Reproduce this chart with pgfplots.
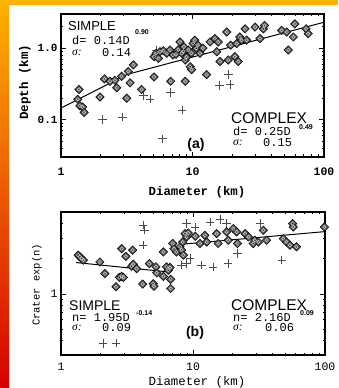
\documentclass[border=0pt]{standalone}
\usepackage{pgfplots}
\pgfplotsset{compat=1.18}
\usepackage{pgfplotstable}
\usepackage{fontspec}
\setmainfont{Liberation Serif}
\newfontfamily\mono{Liberation Mono}
\newfontfamily\hv{Liberation Sans}

\definecolor{topor}{RGB}{255,178,0}
\definecolor{midor}{RGB}{255,95,0}
\definecolor{botred}{RGB}{215,0,0}

% Panel (a): diameter (km), depth (km)
\pgfplotstableread{
D d
1.37 0.264
1.34 0.192
1.39 0.156
1.46 0.150
1.50 0.126
1.98 0.207
2.14 0.371
2.36 0.344
2.57 0.355
2.65 0.279
2.89 0.403
3.16 0.199
3.35 0.327
3.25 0.472
3.55 0.583
4.10 0.264
5.10 0.395
5.10 0.76
5.28 0.845
5.50 0.72
5.66 0.89
6.00 0.92
6.37 0.845
6.74 0.94
6.82 0.344
7.10 0.80
7.50 0.82
7.80 0.95
8.03 1.22
8.30 0.845
8.50 0.90
8.60 1.04
8.80 0.344
8.80 0.68
9.00 0.75
9.30 0.94
9.60 0.55
9.80 0.85
9.85 0.50
10.1 1.16
10.4 1.29
10.7 0.99
11.0 1.10
11.4 0.845
12.0 1.00
12.8 0.425
13.6 1.22
14.8 1.36
15.3 0.89
15.7 1.22
16.2 0.65
18.2 1.68
18.7 0.68
19.5 1.10
21.0 0.76
21.7 1.16
22.3 0.65
22.9 1.43
23.6 1.29
25.1 1.86
25.8 1.29
29.9 1.97
32.6 1.36
34.6 1.86
35.3 2.07
47.6 1.77
52.0 1.68
53.5 0.94
58.5 1.43
60.0 2.18
73.0 1.86
75.8 1.59
}\diaA
\pgfplotstableread{
D d
2.07 0.100
2.94 0.108
4.23 0.218
4.74 0.193
5.34 0.94
5.93 0.054
6.82 0.238
8.30 0.137
16.0 0.30
18.8 0.425
19.3 0.31
}\crossA

% Panel (b): diameter (km), crater exponent n
\pgfplotstableread{
D n
1.35 2.14
1.39 2.07
1.43 2.00
1.48 1.94
1.97 1.87
2.15 1.49
2.61 1.15
2.77 1.38
2.88 1.41
2.97 1.38
2.88 2.43
3.10 2.09
3.49 2.36
3.43 1.72
3.53 1.79
3.74 1.64
4.16 1.21
4.67 1.81
5.00 1.22
5.06 1.16
5.24 1.70
5.31 1.51
5.96 1.41
5.96 2.28
6.30 1.70
6.50 1.59
6.70 1.68
6.77 1.33
6.77 1.11
7.03 2.69
7.18 2.43
7.50 2.28
7.98 2.52
8.20 2.36
8.35 2.77
8.46 2.14
8.70 3.27
8.95 3.06
9.20 3.31
10.4 3.10
11.3 2.69
12.3 3.16
12.7 2.77
15.1 3.27
15.5 2.69
18.0 3.38
18.5 2.87
20.2 3.61
21.4 3.38
21.7 2.69
24.8 3.27
26.3 3.06
28.6 2.69
29.4 2.87
31.3 2.77
34.1 3.49
36.1 2.87
48.3 2.96
51.1 2.77
54.3 2.60
56.8 3.98
57.5 3.72
60.8 2.52
99.0 3.72
}\diaB
\pgfplotstableread{
D n
2.09 0.377
2.61 0.380
4.20 3.85
4.30 3.49
4.20 2.60
8.20 1.76
8.95 1.81
8.95 3.98
9.50 2.00
10.4 3.72
11.6 1.76
13.5 4.11
14.2 1.70
16.0 4.30
18.0 3.98
18.5 1.81
21.7 2.21
32.2 3.98
47.0 1.94
}\crossB

\begin{document}
\begin{tikzpicture}
\useasboundingbox (0,0) rectangle (338pt,388pt);
\clip (0,0) rectangle (338pt,388pt);
\fill[white] (0,0) rectangle (338pt,388pt);
\shade[top color=topor, middle color=midor, bottom color=botred] (0,0) rectangle (9pt,388pt);
\fill[topor] (0,382.5pt) rectangle (338pt,388pt);

% ---------- panel (a)
\begin{axis}[xmode=log, ymode=log, scale only axis,
  width=263pt, height=143pt,
  xmin=1, xmax=100,
  axis line style={line width=1.3pt},
  every tick/.style={black, line width=0.6pt},
  major tick length=5pt, minor tick length=2.5pt,
  tick align=inside,
  xtick={1,10,100}, xticklabels={1,10,100},
  minor xtick={2,3,4,5,6,7,8,9,20,30,40,50,60,70,80,90},
  at={(61pt,231pt)}, anchor=south west,
  ymin=0.03, ymax=3,
  ytick={0.1,1}, yticklabels={0.1,1.0},
  minor ytick={0.03,0.04,0.05,0.06,0.07,0.08,0.09,0.2,0.3,0.4,0.5,0.6,0.7,0.8,0.9,2,3},
  xticklabel style={font=\mono\bfseries\fontsize{11.5}{12}\selectfont, yshift=-7pt},
  yticklabel style={font=\mono\bfseries\fontsize{11}{12}\selectfont},
]
\addplot[black, line width=1pt, no marks] coordinates {(1,0.145) (3.2,0.43) (100,2.3)};
\addplot[only marks, mark=+, mark size=4.2pt, mark options={draw=black!70, line width=0.6pt}] table[x=D,y=d] {\crossA};
\addplot[only marks, mark=square*, mark size=3pt, mark options={rotate=45, fill=black!65, draw=black, line width=0.5pt}] table[x=D,y=d] {\diaA};
\addplot[only marks, mark=o, mark size=1.7pt, mark options={draw=white!80!black, line width=0.5pt}] table[x=D,y=d] {\diaA};
\end{axis}

% ---------- panel (b)
\begin{axis}[xmode=log, ymode=log, scale only axis,
  width=264pt, height=143pt,
  xmin=1, xmax=100,
  axis line style={line width=1.3pt},
  every tick/.style={black, line width=0.6pt},
  major tick length=5pt, minor tick length=2.5pt,
  tick align=inside,
  xtick={1,10,100}, xticklabels={1,10,100},
  minor xtick={2,3,4,5,6,7,8,9,20,30,40,50,60,70,80,90},
  at={(61pt,33pt)}, anchor=south west,
  ymin=0.3, ymax=5,
  ytick={1}, yticklabels={1},
  minor ytick={0.3,0.4,0.5,0.6,0.7,0.8,0.9,2,3,4,5},
  xticklabel style={font=\mono\fontsize{11.5}{12}\selectfont, yshift=-4pt},
  yticklabel style={font=\mono\fontsize{11.5}{12}\selectfont},
]
\addplot[black, line width=1pt, no marks] coordinates {(1.3,1.85) (6.8,1.53)};
\addplot[black, line width=1pt, no marks] coordinates {(8.5,2.66) (100,3.4)};
\addplot[only marks, mark=+, mark size=4.2pt, mark options={draw=black!70, line width=0.6pt}] table[x=D,y=n] {\crossB};
\addplot[only marks, mark=square*, mark size=3pt, mark options={rotate=45, fill=black!65, draw=black, line width=0.5pt}] table[x=D,y=n] {\diaB};
\addplot[only marks, mark=o, mark size=1.7pt, mark options={draw=white!80!black, line width=0.5pt}] table[x=D,y=n] {\diaB};
\end{axis}

% axis labels
\node[rotate=90, inner sep=0] at (25pt,306pt) {\mono\bfseries\fontsize{12.5}{13}\selectfont Depth (km)};
\node[inner sep=0] at (197pt,196pt) {\mono\bfseries\fontsize{12.4}{13}\selectfont Diameter (km)};
\node[rotate=90, inner sep=0] at (37pt,103pt) {\mono\fontsize{10.5}{12}\selectfont Crater exp(n)};
\node[inner sep=0] at (197pt,6pt) {\mono\fontsize{12.4}{13}\selectfont Diameter (km)};

% annotations panel (a)
\node[anchor=west, inner sep=0] at (68pt,362pt) {\hv\fontsize{13}{13}\selectfont SIMPLE};
\node[anchor=west, inner sep=0] at (72pt,347.5pt) {\mono\fontsize{12}{13}\selectfont d= 0.14D};
\node[anchor=west, inner sep=0] at (135pt,356pt) {\hv\bfseries\fontsize{7}{7}\selectfont 0.90};
\node[anchor=west, inner sep=0] at (72pt,335pt) {\fontsize{11.5}{12}\selectfont\itshape σ:};
\node[anchor=west, inner sep=0] at (102pt,335pt) {\mono\fontsize{12}{13}\selectfont 0.14};
\node[anchor=west, inner sep=0] at (231pt,270pt) {\hv\fontsize{15.5}{16}\selectfont COMPLEX};
\node[anchor=west, inner sep=0] at (233pt,256.5pt) {\mono\fontsize{12}{13}\selectfont d= 0.25D};
\node[anchor=west, inner sep=0] at (299pt,261pt) {\hv\bfseries\fontsize{7}{7}\selectfont 0.49};
\node[anchor=west, inner sep=0] at (233pt,245pt) {\fontsize{11.5}{12}\selectfont\itshape σ:};
\node[anchor=west, inner sep=0] at (263pt,245pt) {\mono\fontsize{12}{13}\selectfont 0.15};
\node[inner sep=0] at (196pt,243pt) {\hv\bfseries\fontsize{14}{14}\selectfont (a)};

% annotations panel (b)
\node[anchor=west, inner sep=0] at (69pt,82.5pt) {\hv\fontsize{14}{15}\selectfont SIMPLE};
\node[anchor=west, inner sep=0] at (72pt,70.5pt) {\mono\fontsize{12}{13}\selectfont n= 1.95D};
\node[anchor=west, inner sep=0] at (136pt,75pt) {\hv\bfseries\fontsize{7}{7}\selectfont -0.14};
\node[anchor=west, inner sep=0] at (72pt,60pt) {\fontsize{11.5}{12}\selectfont\itshape σ:};
\node[anchor=west, inner sep=0] at (102pt,60pt) {\mono\fontsize{12}{13}\selectfont 0.09};
\node[inner sep=0] at (195pt,55pt) {\hv\bfseries\fontsize{14}{14}\selectfont (b)};
\node[anchor=west, inner sep=0] at (231pt,83pt) {\hv\fontsize{15.5}{16}\selectfont COMPLEX};
\node[anchor=west, inner sep=0] at (233pt,70.5pt) {\mono\fontsize{12}{13}\selectfont n= 2.16D};
\node[anchor=west, inner sep=0] at (300pt,75pt) {\hv\bfseries\fontsize{7}{7}\selectfont 0.09};
\node[anchor=west, inner sep=0] at (233pt,60pt) {\fontsize{11.5}{12}\selectfont\itshape σ:};
\node[anchor=west, inner sep=0] at (265pt,60pt) {\mono\fontsize{12}{13}\selectfont 0.06};
\end{tikzpicture}
\end{document}
